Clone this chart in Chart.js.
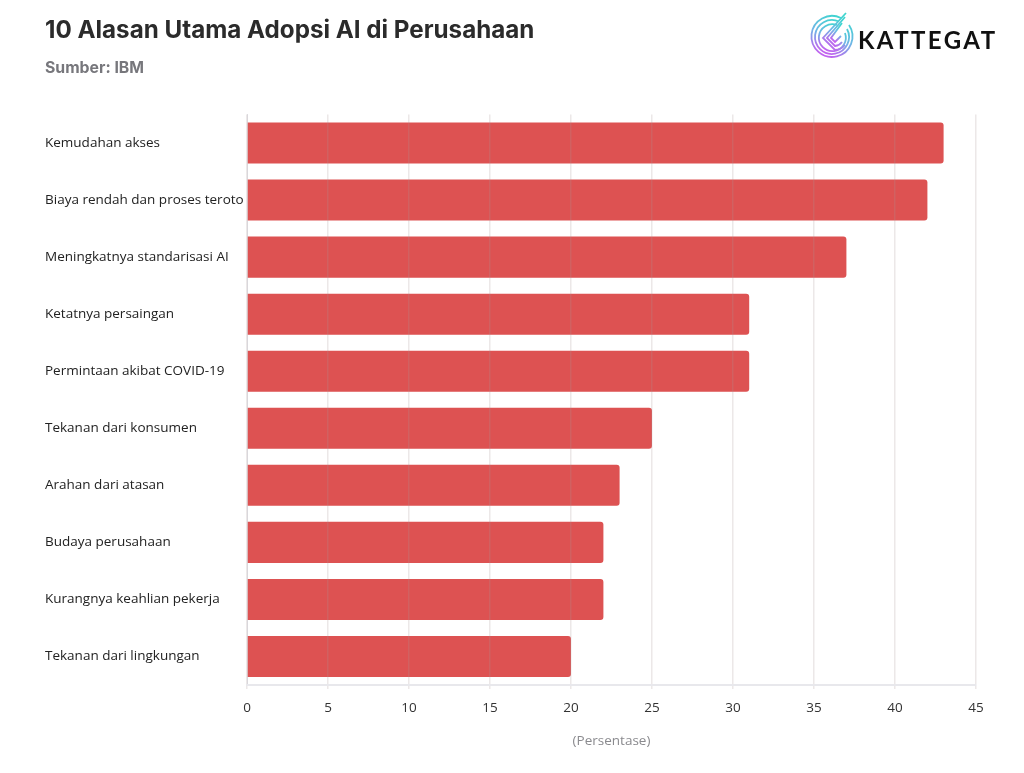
<!DOCTYPE html>
<html>
<head>
<meta charset="utf-8">
<script src="https://cdn.jsdelivr.net/npm/chart.js@4"></script>
<style>
  html, body { margin: 0; padding: 0; background: #fff; }
  #wrap { position: relative; width: 1024px; height: 773px; overflow: hidden; }
  #logo { position: absolute; left: 808px; top: 11px; }
  #brand { position: absolute; left: 858px; top: 25px; font: 700 24px "Lato", sans-serif; letter-spacing: 2.4px; color: #111; }
</style>
</head>
<body>
<div id="wrap">
  <canvas id="myChart" width="1024" height="773"></canvas>
  <svg id="logo" width="50" height="50" viewBox="0 0 50 50" fill="none">
    <defs>
      <linearGradient id="lg" x1="0.7" y1="0" x2="0.3" y2="1">
        <stop offset="0" stop-color="#3fd6cf"/>
        <stop offset="0.5" stop-color="#6fb6e6"/>
        <stop offset="1" stop-color="#c85cf0"/>
      </linearGradient>
    </defs>
    <g stroke="url(#lg)" stroke-width="1.8">
      <path d="M33 7 A20.5 20.5 0 1 0 41 14"/>
      <path d="M31 10.5 A17 17 0 1 0 39 18"/>
      <path d="M29 14 A13.5 13.5 0 1 0 37 22"/>
      <path d="M38 2 L15 27 L27 39 A14 14 0 0 0 37 34"/>
      <path d="M37 6 L19 27 L27 35 A10 10 0 0 0 34 31"/>
      <path d="M34 12 L23 27 L27 31 L33 25"/>
    </g>
  </svg>
  <div id="brand">KATTEGAT</div>
</div>
<script>
const categories = [
  "Kemudahan akses",
  "Biaya rendah dan proses teroto",
  "Meningkatnya standarisasi AI",
  "Ketatnya persaingan",
  "Permintaan akibat COVID-19",
  "Tekanan dari konsumen",
  "Arahan dari atasan",
  "Budaya perusahaan",
  "Kurangnya keahlian pekerja",
  "Tekanan dari lingkungan"
];
const values = [43, 42, 37, 31, 31, 25, 23, 22, 22, 20];

const fontName = '"Open Sans", sans-serif';
const ctx = document.getElementById("myChart").getContext("2d");

new Chart(ctx, {
  type: "bar",
  data: {
    labels: categories,
    datasets: [{
      data: values,
      backgroundColor: "#dd5252",
      borderRadius: { topRight: 3, bottomRight: 3 },
      borderSkipped: false,
      categoryPercentage: 0.72,
      barPercentage: 1
    }]
  },
  options: {
    indexAxis: "y",
    responsive: false,
    animation: false,
    devicePixelRatio: 1,
    layout: { padding: { left: 45, right: 48, top: 0, bottom: 23.5 } },
    plugins: {
      legend: { display: false },
      tooltip: { enabled: false },
      title: {
        display: true,
        text: "10 Alasan Utama Adopsi AI di Perusahaan",
        align: "start",
        color: "#2b2b2b",
        font: { family: '"Inter", sans-serif', size: 24.2, weight: "bold" },
        padding: { top: 16, bottom: 0 }
      },
      subtitle: {
        display: true,
        text: "Sumber: IBM",
        align: "start",
        color: "#77777c",
        font: { family: '"Inter", sans-serif', size: 15.8, weight: "bold" },
        padding: { top: 13.5, bottom: 37 }
      }
    },
    scales: {
      x: {
        afterFit(scale) { scale.height = 64.5; },
        min: 0,
        max: 45,
        ticks: { stepSize: 5, color: "#333", font: { family: fontName, size: 13.5 }, padding: 11, maxRotation: 0 },
        grid: { color: "rgba(170,150,150,0.22)", lineWidth: 1.5, z: 1, drawTicks: true, tickLength: 4 },
        border: { color: "#e8e8ec", width: 2, z: 2 },
        title: { display: true, text: "(Persentase)", color: "#8a8a8e", font: { family: fontName, size: 13.5 }, padding: { top: 8, bottom: 0 } }
      },
      y: {
        afterFit(scale) { scale.width = 202; },
        ticks: { crossAlign: "far", color: "#222", font: { family: fontName, size: 13.5 }, padding: 0 },
        grid: { display: false },
        border: { color: "#e0e0e4", width: 1 }
      }
    }
  }
});
</script>
</body>
</html>
